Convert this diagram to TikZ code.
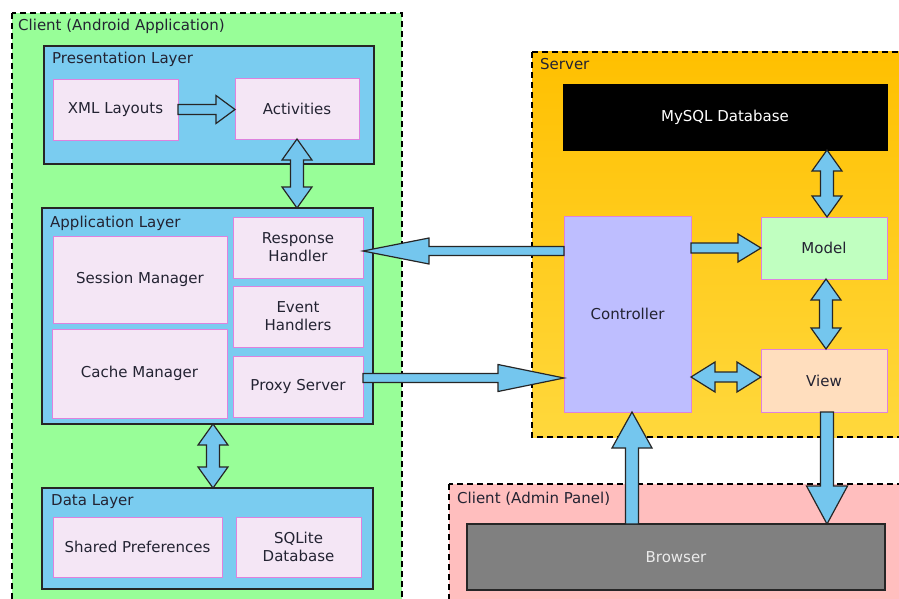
\documentclass[tikz,border=0pt]{standalone}
\usepackage{fontspec}
\setmainfont{DejaVu Sans}
\usetikzlibrary{calc}
\definecolor{cgreen}{RGB}{152,254,152}
\definecolor{clayer}{RGB}{122,204,240}
\definecolor{carrow}{RGB}{116,198,238}
\definecolor{cpink}{RGB}{244,230,245}
\definecolor{cpinkb}{RGB}{222,130,222}
\definecolor{cctrl}{RGB}{190,190,255}
\definecolor{cmodel}{RGB}{192,255,192}
\definecolor{cview}{RGB}{255,222,190}
\definecolor{cadmin}{RGB}{255,190,190}
\definecolor{cbrow}{RGB}{128,128,128}
\definecolor{srvtop}{RGB}{255,192,0}
\definecolor{srvbot}{RGB}{255,216,60}
\definecolor{ctext}{RGB}{35,35,50}
\tikzset{
  every node/.style={font=\fontsize{15}{18}\selectfont, text=ctext},
  container/.style={draw=black, line width=1.2pt, dash pattern=on 6pt off 4pt},
  layerbox/.style={draw=black!85, fill=clayer, line width=1.3pt},
  inbox/.style={draw=cpinkb, fill=cpink, line width=0.9pt, align=center},
  lbl/.style={anchor=base west, inner sep=0pt},
  blk/.style={draw=black!85, fill=carrow, line width=1.2pt, line join=miter},
}
% box: name, style, x1, y1, x2, y2, text
\newcommand{\bx}[7]{\node[#2, anchor=north west, inner sep=0pt, outer sep=0pt,
  minimum width=#5pt-#3pt, minimum height=#6pt-#4pt] (#1) at (#3,#4) {#7};}
% single block arrow: A, B, half shaft, half head, head length
\newcommand{\sarr}[5]{%
  \coordinate (hA) at (#1); \coordinate (hB) at (#2);
  \coordinate (hH) at ($(hB)!#5!(hA)$);
  \draw[blk] ($(hA)!#3!90:(hB)$) -- ($(hH)!#3!90:(hB)$) -- ($(hH)!#4!90:(hB)$)
    -- (hB) -- ($(hH)!#4!-90:(hB)$) -- ($(hH)!#3!-90:(hB)$) -- ($(hA)!#3!-90:(hB)$) -- cycle;}
% double block arrow
\newcommand{\darr}[5]{%
  \coordinate (hA) at (#1); \coordinate (hB) at (#2);
  \coordinate (hH) at ($(hB)!#5!(hA)$);
  \coordinate (hG) at ($(hA)!#5!(hB)$);
  \draw[blk] (hA) -- ($(hG)!#4!90:(hB)$) -- ($(hG)!#3!90:(hB)$) -- ($(hH)!#3!90:(hB)$)
    -- ($(hH)!#4!90:(hB)$) -- (hB) -- ($(hH)!#4!-90:(hB)$) -- ($(hH)!#3!-90:(hB)$)
    -- ($(hG)!#3!-90:(hB)$) -- ($(hG)!#4!-90:(hB)$) -- cycle;}
\begin{document}
\begin{tikzpicture}[x=1pt,y=-1pt]
\useasboundingbox (0,0) rectangle (899,599);
\fill[white] (0,0) rectangle (899,599);
% containers
\draw[container, fill=cgreen] (12,13) rectangle (402,610);
\shade[top color=srvtop, bottom color=srvbot] (532,52) rectangle (910,437);
\draw[container] (532,52) rectangle (910,437);
\draw[container, fill=cadmin] (449,484) rectangle (910,610);
\node[lbl] (androidlbl) at (18,31) {Client (Android Application)};
\node[lbl] (serverlbl) at (540,70) {Server};
\node[lbl] (adminlbl) at (457,503) {Client (Admin Panel)};
% layers
\bx{pres}{layerbox}{44}{46}{374}{164}{}
\bx{app}{layerbox}{42}{208}{373}{424}{}
\bx{data}{layerbox}{42}{488}{373}{589}{}
\node[lbl] (preslbl) at (52,64) {Presentation Layer};
\node[lbl] (applbl) at (50,227) {Application Layer};
\node[lbl] (datalbl) at (51,505) {Data Layer};
% inner boxes
\bx{xml}{inbox}{53}{79}{178}{140}{XML Layouts}
\bx{act}{inbox}{235}{78}{359}{139}{Activities}
\bx{resp}{inbox}{233}{217}{363}{278}{Response\\Handler}
\bx{sess}{inbox}{53}{236}{227}{323}{Session Manager}
\bx{evt}{inbox}{233}{286}{363}{347}{Event\\Handlers}
\bx{cache}{inbox}{52}{329}{227}{418}{Cache Manager}
\bx{proxy}{inbox}{233}{356}{363}{417}{Proxy Server}
\bx{shared}{inbox}{53}{517}{222}{577}{Shared Preferences}
\bx{sqlite}{inbox}{236}{517}{361}{577}{SQLite\\Database}
% server
\bx{mysql}{draw=black, fill=black, text=white}{563}{84}{887}{150}{MySQL Database}
\bx{ctrl}{inbox, fill=cctrl}{564}{216}{691}{412}{Controller}
\bx{model}{inbox, fill=cmodel}{761}{217}{887}{279}{Model}
\bx{view}{inbox, fill=cview}{761}{349}{887}{412}{View}
\bx{brow}{draw=black!85, line width=1.2pt, fill=cbrow, text=white!92!black}{467}{524}{885}{590}{Browser}
% arrows
\coordinate (appdown) at ($(app.south)+(5.5,0)$);
\sarr{xml.east}{xml.east -| act.west}{5pt}{14pt}{19pt}
\darr{act.south}{act.south |- app.north}{6.5pt}{15pt}{21pt}
\darr{appdown}{appdown |- data.north}{6.5pt}{15pt}{21pt}
\sarr{$(ctrl.west |- resp.east)+(0,3.5)$}{$(resp.east)+(0,3.5)$}{4.5pt}{13pt}{66pt}
\sarr{$(proxy.east)+(0,-8.5)$}{$(proxy.east -| ctrl.west)+(0,-8.5)$}{4.5pt}{13.5pt}{66pt}
\darr{$(model.north)+(3,0)$}{$(model.north |- mysql.south)+(3,0)$}{6.5pt}{15pt}{21pt}
\sarr{ctrl.east |- model.west}{model.west}{5pt}{14pt}{23pt}
\darr{$(model.south)+(2,0)$}{$(view.north)+(2,0)$}{6.5pt}{15pt}{21pt}
\darr{$(ctrl.east |- view.west)+(0,-3.5)$}{$(view.west)+(0,-3.5)$}{5pt}{15pt}{24pt}
\sarr{$(ctrl.south |- brow.north)+(4.5,0)$}{$(ctrl.south)+(4.5,0)$}{6.5pt}{20pt}{36pt}
\sarr{$(view.south)+(3,0)$}{$(view.south |- brow.north)+(3,0)$}{6.5pt}{20.5pt}{38pt}
\end{tikzpicture}
\end{document}
